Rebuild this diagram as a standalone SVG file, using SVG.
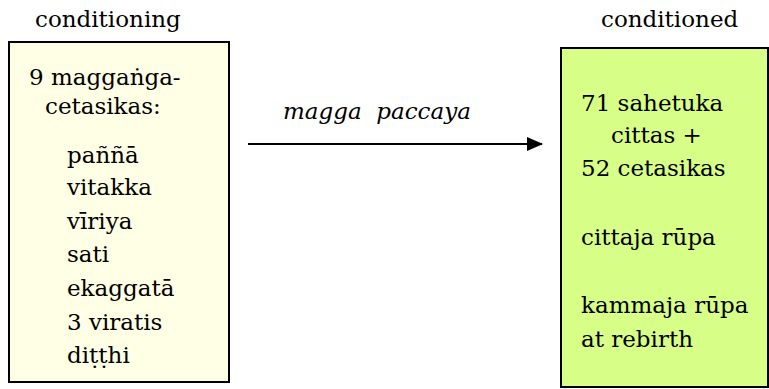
<svg xmlns="http://www.w3.org/2000/svg" width="769" height="389" viewBox="0 0 769 389">
<style>
text{font-family:"DejaVu Serif","Liberation Serif",serif;font-size:23px;fill:#000}
.box{stroke:#000;stroke-width:2}
.it{font-style:italic}
</style>
<defs>
<marker id="ah" markerWidth="16" markerHeight="14" refX="15" refY="7" orient="auto" markerUnits="userSpaceOnUse">
<path d="M0,0 L16,7 L0,14 Z" fill="#000"/>
</marker>
</defs>
<rect width="769" height="389" fill="#fff"/>
<g id="title-left"><text x="35" y="27">conditioning</text></g>
<g id="title-right"><text x="601" y="27">conditioned</text></g>
<g id="node-conditioning">
<rect class="box" x="9" y="42" width="220" height="340" fill="#FFFFE5"/>
<text x="29" y="85">9 maggaṅga-</text>
<text x="45" y="114">cetasikas:</text>
<text x="67" y="163">paññā</text>
<text x="67" y="195">vitakka</text>
<text x="67" y="229">vīriya</text>
<text x="67" y="262">sati</text>
<text x="67" y="296">ekaggatā</text>
<text x="67" y="330">3 viratis</text>
<text x="67" y="363">diṭṭhi</text>
</g>
<g id="node-conditioned">
<rect class="box" x="561" y="48" width="207" height="339" fill="#D7FE86"/>
<text x="581" y="111">71 sahetuka</text>
<text x="611" y="143">cittas +</text>
<text x="581" y="176">52 cetasikas</text>
<text x="581" y="245">cittaja rūpa</text>
<text x="581" y="313">kammaja rūpa</text>
<text x="581" y="347">at rebirth</text>
</g>
<g id="connectors">
<line x1="248" y1="144" x2="542" y2="144" stroke="#000" stroke-width="2" marker-end="url(#ah)"/>
<text class="it" x="283" y="119" xml:space="preserve">magga  paccaya</text>
</g>
</svg>
